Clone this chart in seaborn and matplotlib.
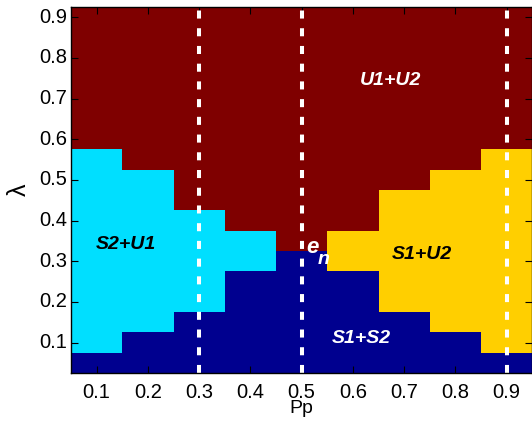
import numpy as np
import pandas as pd
import seaborn as sns
import matplotlib.pyplot as plt
from matplotlib.colors import ListedColormap

# grid
pp = [0.1, 0.2, 0.3, 0.4, 0.5, 0.6, 0.7, 0.8, 0.9]
lam = [round(0.05 * k, 2) for k in range(1, 19)]  # 0.05 ... 0.90

# upper edge of the S1+S2 region and of the mixed region, per Pp column
stable_top = [0.075, 0.125, 0.175, 0.275, 0.325, 0.275, 0.175, 0.125, 0.075]
mixed_top = [0.575, 0.525, 0.425, 0.375, 0.325, 0.375, 0.475, 0.525, 0.575]
mixed_phase = [1, 1, 1, 1, 1, 2, 2, 2, 2]  # 1 = S2+U1, 2 = S1+U2

phase_names = ["S1+S2", "S2+U1", "S1+U2", "U1+U2"]
phase_colors = ["#00008f", "#00dfff", "#ffcf00", "#7f0000"]

dashed_pp = [0.3, 0.5, 0.9]
xticks = [0.1, 0.2, 0.3, 0.4, 0.5, 0.6, 0.7, 0.8, 0.9]
yticks = [0.1, 0.2, 0.3, 0.4, 0.5, 0.6, 0.7, 0.8, 0.9]

# build phase matrix
grid = np.zeros((len(lam), len(pp)), dtype=int)
for j in range(len(pp)):
    for i, l in enumerate(lam):
        if l < stable_top[j]:
            grid[i, j] = 0
        elif l < mixed_top[j]:
            grid[i, j] = mixed_phase[j]
        else:
            grid[i, j] = 3

df = pd.DataFrame(grid, index=lam, columns=pp)


def cx(p):
    return (p - pp[0]) / 0.1 + 0.5


def cy(l):
    return (l - lam[0]) / 0.05 + 0.5


plt.rcParams['font.family'] = ['Liberation Sans', 'DejaVu Sans']

fig = plt.figure(figsize=(5.32, 4.21), dpi=100)
ax = fig.add_axes([71 / 532, 48 / 421, 461.25 / 532, 366 / 421])

sns.heatmap(df, ax=ax, cmap=ListedColormap(phase_colors), vmin=-0.5, vmax=3.5,
            cbar=False)
ax.set_ylim(0, len(lam))
ax.set_xlim(0, len(pp))

for p in dashed_pp:
    ax.axvline(cx(p), color="white", lw=2.9, linestyle=(0, (2.0, 2.4)))

ax.set_xticks([cx(p) for p in xticks])
ax.set_xticklabels([f"{p:.1f}" for p in xticks], rotation=0)
ax.set_yticks([cy(l) for l in yticks])
ax.set_yticklabels([f"{l:.1f}" for l in yticks], rotation=0)
ax.tick_params(direction="in", length=5, width=0.8, top=True, right=True,
               labelsize=14.5, pad=3, colors="black")
ax.tick_params(axis="x", pad=7)

for s in ax.spines.values():
    s.set_visible(True)
    s.set_color("black")
    s.set_linewidth(1.0)

ax.set_xlabel("Pp", fontsize=14, labelpad=-1)
ax.set_ylabel("λ", fontsize=18, labelpad=6)

lbl = dict(fontsize=14, fontweight="bold", fontstyle="italic", ha="center", va="center")
ax.text(cx(0.158), cy(0.34), "S2+U1", color="black", **lbl)
ax.text(cx(0.674), cy(0.745), "U1+U2", color="white", **lbl)
ax.text(cx(0.735), cy(0.316), "S1+U2", color="black", **lbl)
ax.text(cx(0.617), cy(0.11), "S1+S2", color="white", **lbl)
ax.text(cx(0.521), cy(0.333), "e", color="white", fontsize=16, fontweight="bold",
        fontstyle="italic", ha="center", va="center")
ax.text(cx(0.543), cy(0.305), "n", color="white", fontsize=14, fontweight="bold",
        fontstyle="italic", ha="center", va="center")

fig.savefig("out.png", dpi=100)
